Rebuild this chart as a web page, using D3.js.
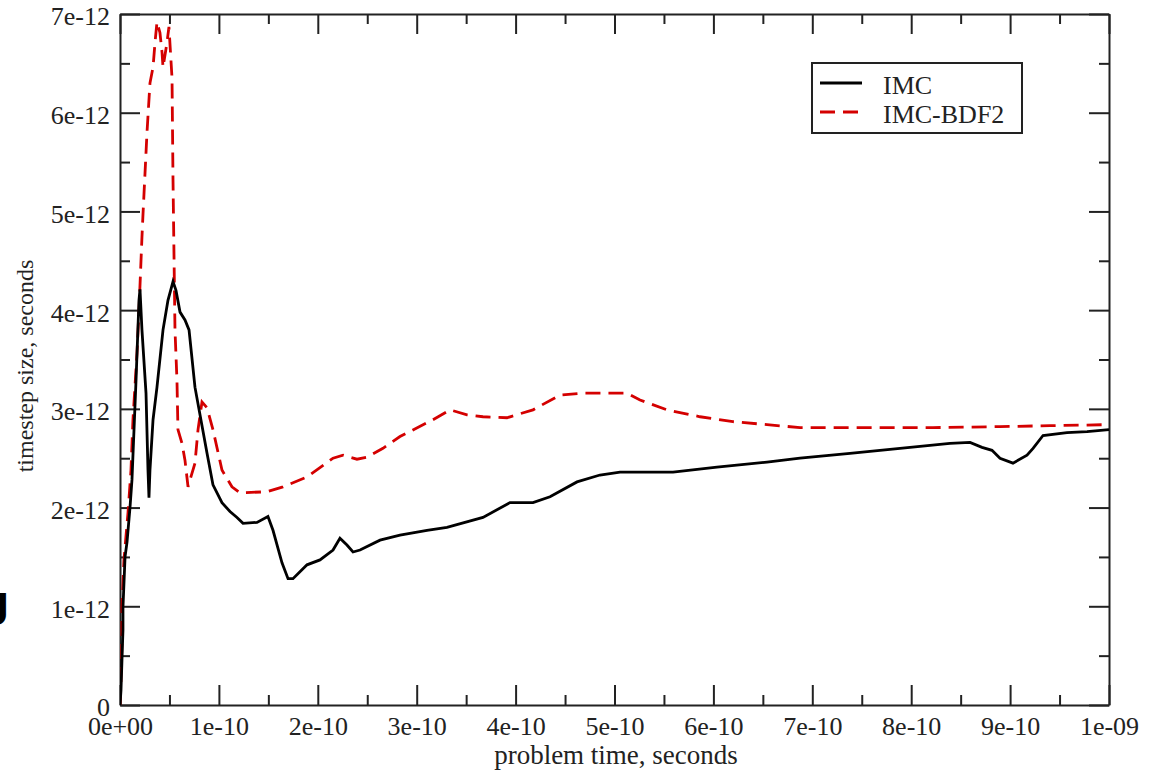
<!DOCTYPE html>
<html>
<head>
<meta charset="utf-8">
<script src="https://cdn.jsdelivr.net/npm/d3@7"></script>
<style>
  body { margin: 0; background: #fff; }
  svg { display: block; font-family: "Liberation Serif", "Times New Roman", serif; }
  .axis path, .axis line { stroke: #222; stroke-width: 2px; }
  .axis text { font-size: 26px; fill: #222; font-family: "Liberation Serif", serif; }
</style>
</head>
<body>
<div id="chart"></div>
<script>
// time in units of 1e-10 s, timestep in units of 1e-12 s
const imcTime = [0, 0.01, 0.02, 0.03, 0.03, 0.051, 0.071, 0.101, 0.121, 0.162, 0.192, 0.202, 0.222, 0.263, 0.283, 0.293,
  0.303, 0.334, 0.374, 0.435, 0.485, 0.536, 0.566, 0.607, 0.657, 0.698, 0.758, 0.88, 0.94, 1.031, 1.112, 1.183,
  1.244, 1.385, 1.496, 1.547, 1.638, 1.699, 1.749, 1.84, 1.891, 2.022, 2.154, 2.224, 2.295, 2.356, 2.427, 2.629,
  2.831, 3.104, 3.306, 3.67, 3.943, 4.176, 4.348, 4.621, 4.853, 5.056, 5.592, 6.036, 6.542, 6.876, 7.381, 7.887,
  8.392, 8.595, 8.716, 8.817, 8.898, 9.029, 9.171, 9.232, 9.333, 9.575, 9.778, 10.0];
const imcStep = [0, 0.15, 0.46, 0.76, 0.99, 1.5, 1.65, 2.0, 2.28, 3.29, 4.1, 4.21, 3.8, 3.16, 2.38, 2.1,
  2.38, 2.89, 3.22, 3.8, 4.1, 4.29, 4.2, 3.98, 3.9, 3.8, 3.22, 2.55, 2.23, 2.05, 1.96, 1.9,
  1.84, 1.85, 1.91, 1.77, 1.44, 1.28, 1.28, 1.37, 1.42, 1.47, 1.57, 1.69, 1.62, 1.55, 1.57, 1.67,
  1.72, 1.77, 1.8, 1.9, 2.05, 2.05, 2.11, 2.26, 2.33, 2.36, 2.36, 2.41, 2.46, 2.5, 2.55, 2.6,
  2.65, 2.66, 2.61, 2.58, 2.5, 2.45, 2.53, 2.6, 2.73, 2.76, 2.77, 2.79];

const bdf2Time = [0, 0.01, 0.02, 0.02, 0.04, 0.081, 0.111, 0.131, 0.172, 0.192, 0.222, 0.233, 0.273, 0.303, 0.334, 0.354,
  0.374, 0.404, 0.425, 0.435, 0.475, 0.495, 0.526, 0.536, 0.556, 0.576, 0.586, 0.627, 0.657, 0.688, 0.708, 0.758,
  0.789, 0.829, 0.88, 0.94, 1.031, 1.132, 1.213, 1.486, 1.648, 1.891, 2.154, 2.255, 2.396, 2.497, 2.659, 2.831,
  3.165, 3.337, 3.509, 3.67, 3.913, 4.176, 4.449, 4.682, 5.126, 5.258, 5.531, 5.865, 6.198, 6.542, 6.876, 7.553,
  8.22, 8.898, 9.403, 10.0];
const bdf2Step = [0, 0.25, 0.66, 0.99, 1.47, 1.95, 2.38, 2.89, 3.57, 4.0, 4.74, 4.98, 5.8, 6.3, 6.46, 6.71,
  6.92, 6.81, 6.61, 6.46, 6.71, 6.87, 6.35, 5.32, 3.8, 3.29, 2.79, 2.65, 2.48, 2.21, 2.28, 2.45,
  2.79, 3.07, 3.01, 2.79, 2.38, 2.21, 2.15, 2.16, 2.21, 2.31, 2.5, 2.53, 2.49, 2.51, 2.6, 2.72,
  2.89, 2.99, 2.94, 2.92, 2.91, 2.99, 3.14, 3.16, 3.16, 3.09, 2.99, 2.92, 2.87, 2.84, 2.81, 2.81,
  2.81, 2.82, 2.83, 2.84];

const xTicks = [0, 1, 2, 3, 4, 5, 6, 7, 8, 9, 10];
const xTickLabels = ['0e+00', '1e-10', '2e-10', '3e-10', '4e-10', '5e-10', '6e-10', '7e-10', '8e-10', '9e-10', '1e-09'];
const yTicks = [0, 1, 2, 3, 4, 5, 6, 7];
const yTickLabels = ['0', '1e-12', '2e-12', '3e-12', '4e-12', '5e-12', '6e-12', '7e-12'];
const seriesNames = ['IMC', 'IMC-BDF2'];

const W = 1155, H = 770;
const margin = { top: 14, right: 46, bottom: 65, left: 120 };
const width = W - margin.left - margin.right;
const height = H - margin.top - margin.bottom;

const svg = d3.select('#chart').append('svg')
  .attr('width', W)
  .attr('height', H);

const x = d3.scaleLinear().domain([0, 10]).range([0, width]);
const y = d3.scaleLinear().domain([0, 7]).range([height, 0]);

// stray glyph from a neighbouring figure at the left edge
svg.append('text')
  .attr('x', 9).attr('y', 625)
  .attr('text-anchor', 'end')
  .style('font-family', '"Liberation Sans", Arial, sans-serif')
  .style('font-weight', 'bold')
  .style('font-size', '46px')
  .text('J');

const g = svg.append('g').attr('transform', `translate(${margin.left},${margin.top})`);

g.append('clipPath').attr('id', 'clip')
  .append('rect').attr('width', width).attr('height', height);

const minorX = d3.range(0.5, 10, 1);
const minorY = d3.range(0.5, 7, 1);

// minor ticks
g.append('g').attr('class', 'axis').attr('transform', `translate(0,${height})`)
  .call(d3.axisBottom(x).tickValues(minorX).tickSize(-10).tickFormat(''))
  .call(s => s.select('.domain').remove());
g.append('g').attr('class', 'axis')
  .call(d3.axisTop(x).tickValues(minorX).tickSize(-10).tickFormat(''))
  .call(s => s.select('.domain').remove());
g.append('g').attr('class', 'axis')
  .call(d3.axisLeft(y).tickValues(minorY).tickSize(-10).tickFormat(''))
  .call(s => s.select('.domain').remove());
g.append('g').attr('class', 'axis').attr('transform', `translate(${width},0)`)
  .call(d3.axisRight(y).tickValues(minorY).tickSize(-10).tickFormat(''))
  .call(s => s.select('.domain').remove());

// major ticks
g.append('g').attr('class', 'axis x').attr('transform', `translate(0,${height})`)
  .call(d3.axisBottom(x).tickValues(xTicks).tickSize(-20).tickSizeOuter(0).tickPadding(12)
    .tickFormat((d, i) => xTickLabels[i]));
g.append('g').attr('class', 'axis')
  .call(d3.axisTop(x).tickValues(xTicks).tickSize(-20).tickSizeOuter(0).tickFormat(''));
g.append('g').attr('class', 'axis y')
  .call(d3.axisLeft(y).tickValues(yTicks).tickSize(-20).tickSizeOuter(0).tickPadding(10)
    .tickFormat((d, i) => yTickLabels[i]))
  .call(s => s.selectAll('text').attr('dy', '0.42em'));
g.append('g').attr('class', 'axis').attr('transform', `translate(${width},0)`)
  .call(d3.axisRight(y).tickValues(yTicks).tickSize(-20).tickSizeOuter(0).tickFormat(''));

const line = d3.line()
  .x(d => x(d[0]))
  .y(d => y(d[1]));

const plot = g.append('g').attr('clip-path', 'url(#clip)');

plot.append('path')
  .datum(bdf2Time.map((t, i) => [t, bdf2Step[i]]))
  .attr('d', line)
  .attr('fill', 'none')
  .attr('stroke', '#d40000')
  .attr('stroke-width', 2.8)
  .attr('stroke-dasharray', '15,8');

plot.append('path')
  .datum(imcTime.map((t, i) => [t, imcStep[i]]))
  .attr('d', line)
  .attr('fill', 'none')
  .attr('stroke', '#000')
  .attr('stroke-width', 2.8);

// legend
const legend = svg.append('g').attr('transform', 'translate(812,63)');
legend.append('rect')
  .attr('width', 210).attr('height', 70)
  .attr('fill', '#fff').attr('stroke', '#222').attr('stroke-width', 2);
const legendStyles = [
  { stroke: '#000', dash: null },
  { stroke: '#d40000', dash: '15,8' }
];
seriesNames.forEach((name, i) => {
  const row = legend.append('g').attr('transform', `translate(0,${20 + i * 29})`);
  row.append('line')
    .attr('x1', 8).attr('x2', 50)
    .attr('stroke', legendStyles[i].stroke)
    .attr('stroke-width', 2.8)
    .attr('stroke-dasharray', legendStyles[i].dash);
  row.append('text')
    .attr('x', 71).attr('y', 11)
    .style('font-size', '26px')
    .style('fill', '#222')
    .text(name);
});

// axis titles
svg.append('text')
  .attr('x', 616).attr('y', 764)
  .attr('text-anchor', 'middle')
  .style('font-size', '27px')
  .style('fill', '#222')
  .text('problem time, seconds');

svg.append('text')
  .attr('transform', 'translate(33,366) rotate(-90)')
  .attr('text-anchor', 'middle')
  .style('font-size', '24px')
  .style('fill', '#222')
  .text('timestep size, seconds');
</script>
</body>
</html>
